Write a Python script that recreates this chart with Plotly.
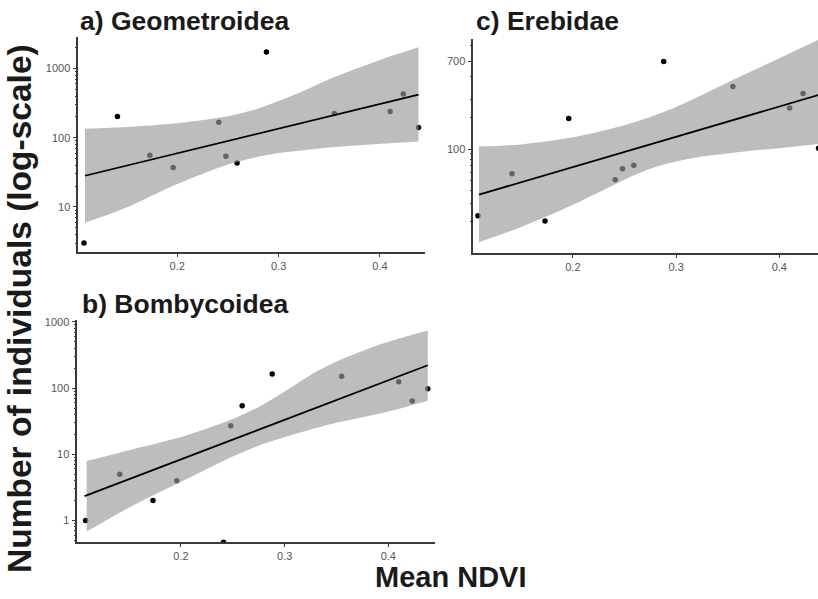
import plotly.graph_objects as go

# ---------------- data ----------------
ndvi = [0.108, 0.141, 0.173, 0.196, 0.241, 0.248, 0.259, 0.288, 0.355, 0.410, 0.423, 0.438]

geo_counts = [3.0, 202, 56, 37, 168, 54, 43, 1740, 224, 239, 428, 141]
bomb_counts = [1.0, 5.0, 2.0, 4.0, 0.47, 27, 54, 163, 151, 125, 64, 98]
ereb_counts = [23, 58, 20.4, 197, 51, 65, 70, 695, 400, 249, 343, 102]

band_x = [0.109, 0.15, 0.2, 0.25, 0.275, 0.3, 0.325, 0.35, 0.375, 0.4, 0.438]

geo_upper = [135, 143, 162, 204, 251, 339, 479, 700, 977, 1334, 2028]
geo_lower = [5.9, 9.8, 21.4, 41, 51, 60, 66, 72, 77, 82, 88.5]
geo_fit_x = [0.109, 0.438]
geo_fit_y = [28.2, 419]

bomb_upper = [7.9, 11.5, 18.2, 34, 52, 89, 158, 251, 363, 501, 741]
bomb_lower = [0.68, 1.57, 3.84, 9.3, 13.5, 18.2, 23.7, 30, 36.3, 44.3, 64.4]
bomb_fit_x = [0.107, 0.438]
bomb_fit_y = [2.34, 221]

ereb_upper = [106, 111, 130, 170, 204, 254, 331, 437, 571, 746, 1122]
ereb_lower = [12.8, 17.9, 29.2, 51, 65, 76, 85, 91, 97, 102, 112]
ereb_fit_x = [0.109, 0.438]
ereb_fit_y = [36.6, 331]

x_ticks = [0.2, 0.3, 0.4]
x_tick_labels = ["0.2", "0.3", "0.4"]
geo_y_ticks = [10, 100, 1000]
bomb_y_ticks = [1, 10, 100, 1000]
ereb_y_ticks = [100, 700]
ereb_minor_ticks = [20, 30, 40, 50, 60, 70, 80, 90, 200, 300, 500, 1000]

panel_titles = ["a) Geometroidea", "b) Bombycoidea", "c) Erebidae"]
y_title = "Number of individuals (log-scale)"
x_title = "Mean NDVI"

# ---------------- figure ----------------
W, H = 818, 599
FONT = "Liberation Sans, Arial, sans-serif"
BAND = "rgba(154,154,154,0.65)"
AXIS_COL = "#3a3a3a"
TICK_FONT = dict(family=FONT, size=11, color="#555555")


def px_dom(a, b, total):
    return [a / total, b / total]


def py_dom(top, bottom):
    return [1 - bottom / H, 1 - top / H]


def decade_minors(lo, hi):
    vals = []
    for e in range(lo, hi + 1):
        for m in range(2, 10):
            vals.append(m * 10 ** e)
    return vals


fig = go.Figure()

panels = [
    dict(xa="x", ya="y", counts=geo_counts, up=geo_upper, lo=geo_lower,
         fx=geo_fit_x, fy=geo_fit_y),
    dict(xa="x2", ya="y2", counts=bomb_counts, up=bomb_upper, lo=bomb_lower,
         fx=bomb_fit_x, fy=bomb_fit_y),
    dict(xa="x3", ya="y3", counts=ereb_counts, up=ereb_upper, lo=ereb_lower,
         fx=ereb_fit_x, fy=ereb_fit_y),
]

for p in panels:
    # points (drawn first so the translucent band greys them)
    fig.add_trace(go.Scatter(
        x=ndvi, y=p["counts"], mode="markers", xaxis=p["xa"], yaxis=p["ya"],
        marker=dict(color="#000000", size=5.5), showlegend=False, hoverinfo="skip"))
    # confidence band
    fig.add_trace(go.Scatter(
        x=band_x, y=p["lo"], mode="lines",
        line=dict(width=0, shape="spline", smoothing=0.8),
        xaxis=p["xa"], yaxis=p["ya"], showlegend=False, hoverinfo="skip"))
    fig.add_trace(go.Scatter(
        x=band_x, y=p["up"], mode="lines",
        line=dict(width=0, shape="spline", smoothing=0.8),
        fill="tonexty", fillcolor=BAND,
        xaxis=p["xa"], yaxis=p["ya"], showlegend=False, hoverinfo="skip"))
    # fitted line
    fig.add_trace(go.Scatter(
        x=p["fx"], y=p["fy"], mode="lines", line=dict(color="#000000", width=1.8),
        xaxis=p["xa"], yaxis=p["ya"], showlegend=False, hoverinfo="skip"))

common_x = dict(showline=True, linecolor=AXIS_COL, linewidth=1.5, ticks="outside",
                ticklen=3, tickcolor=AXIS_COL, tickfont=TICK_FONT, showgrid=False,
                zeroline=False, tickmode="array", tickvals=x_ticks,
                ticktext=x_tick_labels, mirror=False)
common_y = dict(type="log", showline=True, linecolor=AXIS_COL, linewidth=1.5,
                ticks="outside", ticklen=4, tickcolor=AXIS_COL, tickfont=TICK_FONT,
                showgrid=False, zeroline=False, tickmode="array", mirror=False)

fig.update_layout(
    width=W, height=H, margin=dict(l=0, r=0, t=0, b=0),
    paper_bgcolor="white", plot_bgcolor="white",
    xaxis=dict(common_x, domain=px_dom(78.3, 425, W), range=[0.1024, 0.4444], anchor="y"),
    yaxis=dict(common_y, domain=py_dom(33, 249.5), range=[0.35, 3.46], anchor="x",
               tickvals=geo_y_ticks, ticktext=[str(v) for v in geo_y_ticks],
               minor=dict(ticks="outside", ticklen=2, tickcolor=AXIS_COL,
                          tickmode="array", tickvals=decade_minors(0, 3), showgrid=False)),
    xaxis2=dict(common_x, domain=px_dom(77.3, 435, W), range=[0.100, 0.445], anchor="y2"),
    yaxis2=dict(common_y, domain=py_dom(318, 542), range=[-0.33, 3.03], anchor="x2",
                tickvals=bomb_y_ticks, ticktext=[str(v) for v in bomb_y_ticks],
                minor=dict(ticks="outside", ticklen=2, tickcolor=AXIS_COL,
                           tickmode="array", tickvals=decade_minors(-1, 2), showgrid=False)),
    xaxis3=dict(common_x, domain=px_dom(473.3, 818, W), range=[0.1035, 0.4375], anchor="y3"),
    yaxis3=dict(common_y, domain=py_dom(35, 251), range=[1.0, 3.06], anchor="x3",
                tickvals=ereb_y_ticks, ticktext=[str(v) for v in ereb_y_ticks],
                minor=dict(ticks="outside", ticklen=2, tickcolor=AXIS_COL,
                           tickmode="array", tickvals=ereb_minor_ticks, showgrid=False)),
)

title_font = dict(family=FONT, size=26.5, color="#1a1a1a")
ann = [
    dict(text="<b>" + panel_titles[0] + "</b>", x=78 / W, y=1 - 17 / H,
         xanchor="left", yanchor="middle", font=title_font),
    dict(text="<b>" + panel_titles[1] + "</b>", x=80 / W, y=1 - 302 / H,
         xanchor="left", yanchor="middle", font=title_font),
    dict(text="<b>" + panel_titles[2] + "</b>", x=474 / W, y=1 - 17 / H,
         xanchor="left", yanchor="middle", font=title_font),
    dict(text="<b>" + y_title + "</b>", x=20 / W, y=1 - 307 / H, textangle=-90,
         xanchor="center", yanchor="middle",
         font=dict(family=FONT, size=33.5, color="#1a1a1a")),
    dict(text="<b>" + x_title + "</b>", x=451 / W, y=1 - 577 / H,
         xanchor="center", yanchor="middle",
         font=dict(family=FONT, size=29, color="#1a1a1a")),
]
for a in ann:
    a.update(xref="paper", yref="paper", showarrow=False)
fig.update_layout(annotations=ann)

fig.write_html(
    "out.html",
    config={"displayModeBar": False},
    post_script="document.body.style.margin='0px';document.body.style.overflow='hidden';",
)
